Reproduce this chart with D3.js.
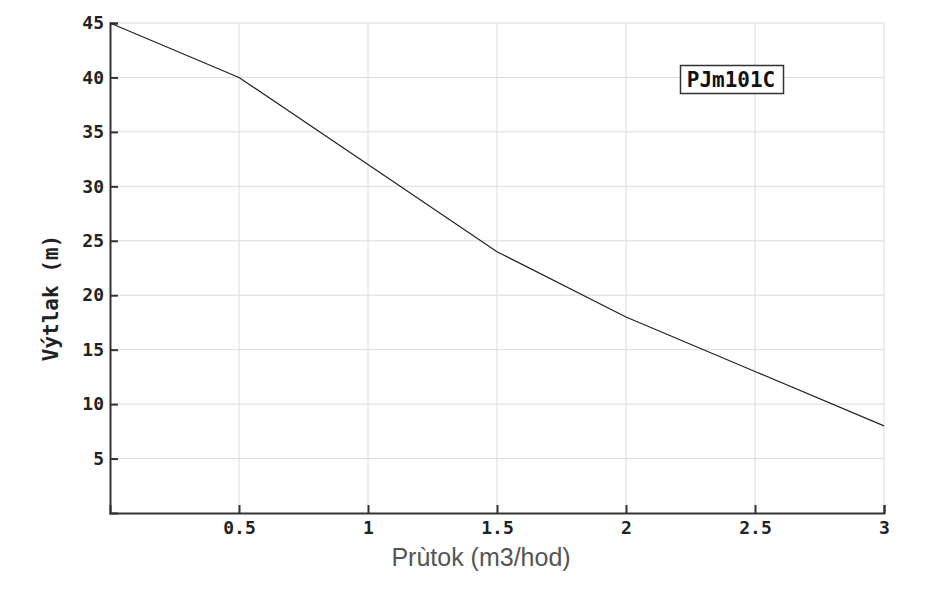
<!DOCTYPE html>
<html>
<head>
<meta charset="utf-8">
<script src="https://cdn.jsdelivr.net/npm/d3@7"></script>
<style>
  body { margin: 0; background: #fff; }
  svg { display: block; }
</style>
</head>
<body>
<div id="chart"></div>
<script>
// data
const flow = [0, 0.5, 1, 1.5, 2, 2.5, 3];
const head = [45, 40, 32, 24, 18, 13, 8];
const xTicks = [0.5, 1, 1.5, 2, 2.5, 3];
const yTicks = [5, 10, 15, 20, 25, 30, 35, 40, 45];
const seriesName = "PJm101C";

const width = 930;
const height = 591;
const margin = { top: 23, right: 46, bottom: 78, left: 110 };

const svg = d3.select("#chart")
    .append("svg")
    .attr("width", width)
    .attr("height", height);

const x = d3.scaleLinear().domain([0, 3]).range([margin.left, width - margin.right]);
const y = d3.scaleLinear().domain([0, 45]).range([height - margin.bottom, margin.top]);

const mono = "'DejaVu Sans Mono', 'Liberation Mono', monospace";

// grid
svg.append("g")
    .selectAll("line")
    .data(yTicks)
    .enter()
    .append("line")
    .attr("x1", x(0))
    .attr("x2", x(3))
    .attr("y1", d => y(d))
    .attr("y2", d => y(d))
    .style("stroke", "#dcdcdc")
    .style("stroke-width", 1);

svg.append("g")
    .selectAll("line")
    .data(xTicks)
    .enter()
    .append("line")
    .attr("x1", d => x(d))
    .attr("x2", d => x(d))
    .attr("y1", y(0))
    .attr("y2", y(45))
    .style("stroke", "#dcdcdc")
    .style("stroke-width", 1);

// axes
const xAxis = svg.append("g")
    .attr("transform", `translate(0,${y(0)})`)
    .call(d3.axisBottom(x).tickValues(xTicks).tickSize(-8).tickPadding(8).tickFormat(d3.format("")));

const yAxis = svg.append("g")
    .attr("transform", `translate(${x(0)},0)`)
    .call(d3.axisLeft(y).tickValues(yTicks).tickSize(-8).tickPadding(6).tickFormat(d3.format("")));

[xAxis, yAxis].forEach(g => {
    g.attr("font-size", 18).attr("font-family", mono);
    g.select(".domain").style("stroke", "#333").style("stroke-width", 2);
    g.selectAll(".tick line").style("stroke", "#333").style("stroke-width", 2);
    g.selectAll(".tick text")
        .style("font-family", mono)
        .style("font-weight", "bold")
        .style("font-size", "18px")
        .style("fill", "#222");
});

// line
const line = d3.line()
    .x((d, i) => x(flow[i]))
    .y(d => y(d));

svg.append("path")
    .datum(head)
    .attr("d", line)
    .style("fill", "none")
    .style("stroke", "#222")
    .style("stroke-width", 1.2);

// axis titles
svg.append("text")
    .attr("x", 481)
    .attr("y", 566)
    .attr("text-anchor", "middle")
    .style("font-family", "'Liberation Sans', Arial, sans-serif")
    .style("font-size", "25px")
    .style("fill", "#555")
    .text("Prùtok (m3/hod)");

svg.append("text")
    .attr("transform", "translate(58,298) rotate(-90)")
    .attr("text-anchor", "middle")
    .style("font-family", mono)
    .style("font-weight", "bold")
    .style("font-size", "21px")
    .style("fill", "#222")
    .text("Výtlak (m)");

// legend
const legend = svg.append("g");
legend.append("rect")
    .attr("x", 680.5)
    .attr("y", 65.5)
    .attr("width", 103)
    .attr("height", 28)
    .style("fill", "#fff")
    .style("stroke", "#333")
    .style("stroke-width", 1.5);
legend.append("text")
    .attr("x", 731)
    .attr("y", 87)
    .attr("text-anchor", "middle")
    .style("font-family", mono)
    .style("font-weight", "bold")
    .style("font-size", "21px")
    .style("fill", "#111")
    .text(seriesName);
</script>
</body>
</html>
